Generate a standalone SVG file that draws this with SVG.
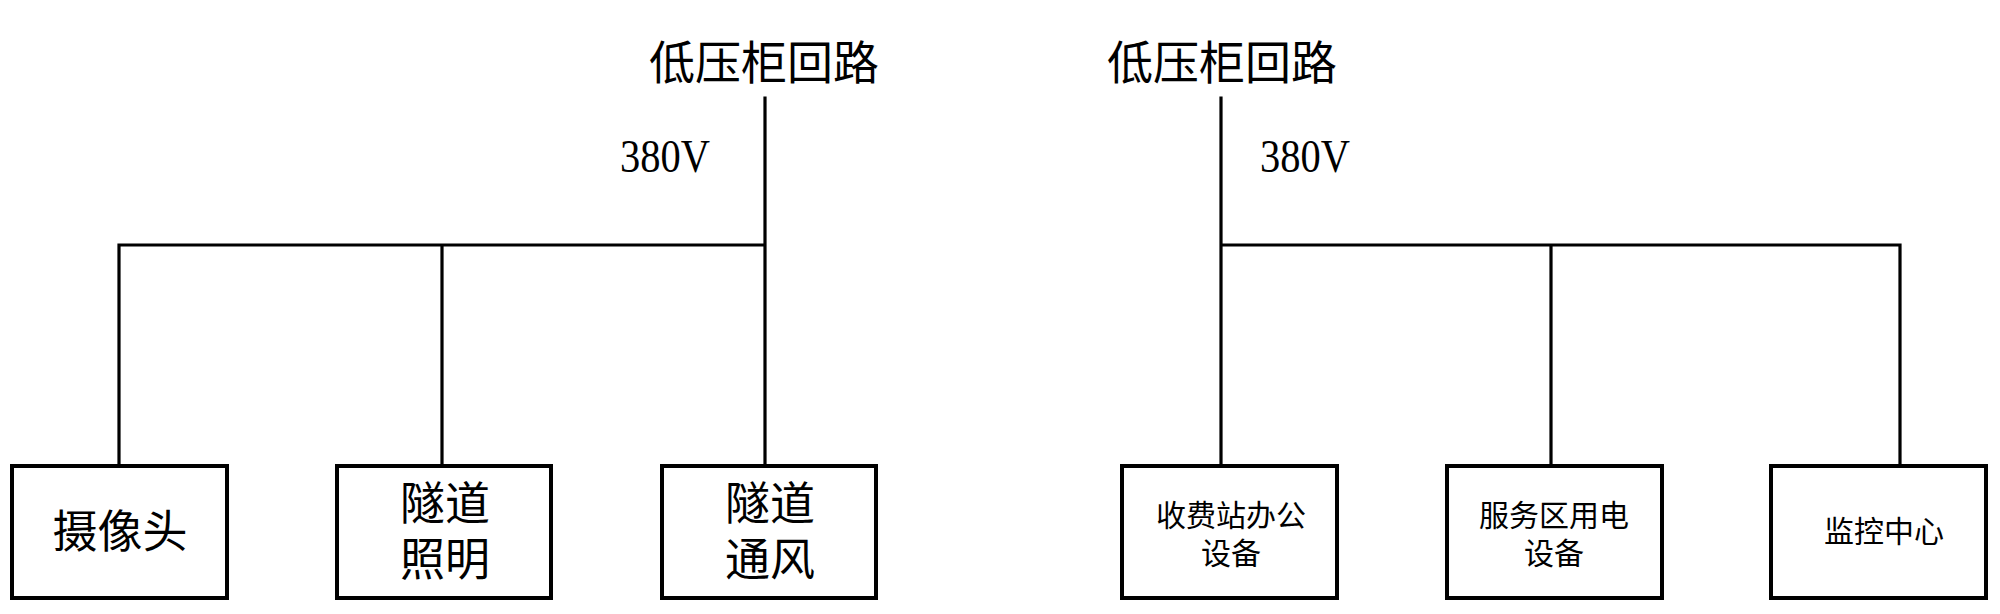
<svg xmlns="http://www.w3.org/2000/svg" width="2000" height="614" viewBox="0 0 2000 614">
<style>
.conn{stroke:#000;stroke-width:3.2;fill:none;stroke-linecap:square}
.box{stroke:#000;stroke-width:4;fill:#fff}
.cjk{font-family:"Liberation Sans","Noto Sans CJK SC",sans-serif;fill:#000;text-anchor:middle}
.big{font-size:45px}
.small{font-size:30px}
.title{font-size:46px}
.volt{font-family:"Liberation Serif",serif;font-size:46px;fill:#000}
</style>
<rect width="2000" height="614" fill="#fff"/>
<g id="connectors">
<path class="conn" d="M765 98V466M119 245H765M119 245V466M442 245V466"/>
<path class="conn" d="M1221 98V466M1221 245H1900M1900 245V466M1551 245V466"/>
</g>
<g id="source-left">
<text class="cjk title" x="764" y="79">低压柜回路</text>
<text class="volt" x="620" y="172" textLength="90" lengthAdjust="spacingAndGlyphs">380V</text>
</g>
<g id="source-right">
<text class="cjk title" x="1222" y="79">低压柜回路</text>
<text class="volt" x="1260" y="172" textLength="90" lengthAdjust="spacingAndGlyphs">380V</text>
</g>
<g id="camera">
<rect class="box" x="12" y="466" width="215" height="132"/>
<text class="cjk big" x="120" y="548">摄像头</text>
</g>
<g id="tunnel-lighting">
<rect class="box" x="337" y="466" width="214" height="132"/>
<text class="cjk big" x="445" y="520">隧道</text>
<text class="cjk big" x="445" y="576">照明</text>
</g>
<g id="tunnel-ventilation">
<rect class="box" x="662" y="466" width="214" height="132"/>
<text class="cjk big" x="770" y="520">隧道</text>
<text class="cjk big" x="770" y="576">通风</text>
</g>
<g id="toll-office">
<rect class="box" x="1122" y="466" width="215" height="132"/>
<text class="cjk small" x="1231" y="526">收费站办公</text>
<text class="cjk small" x="1231" y="564">设备</text>
</g>
<g id="service-area">
<rect class="box" x="1447" y="466" width="215" height="132"/>
<text class="cjk small" x="1554" y="526">服务区用电</text>
<text class="cjk small" x="1554" y="564">设备</text>
</g>
<g id="monitor-center">
<rect class="box" x="1771" y="466" width="215" height="132"/>
<text class="cjk small" x="1884" y="542">监控中心</text>
</g>
</svg>
